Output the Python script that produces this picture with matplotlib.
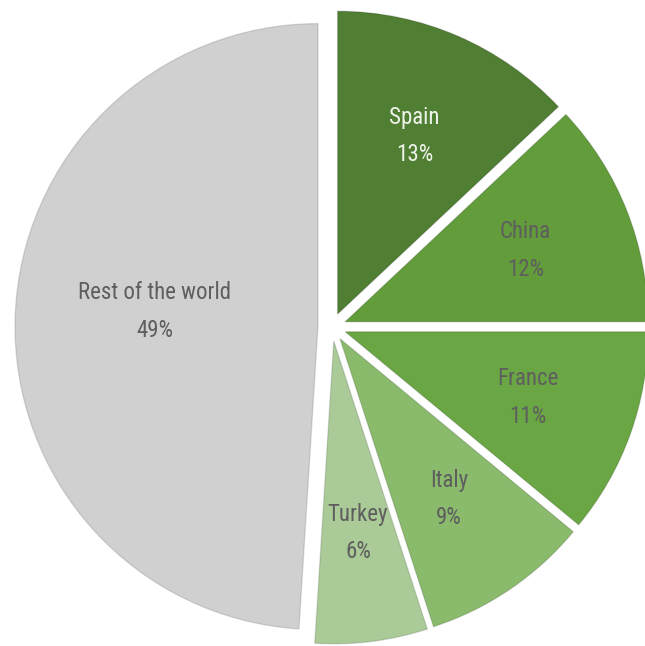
import matplotlib
matplotlib.use("Agg")
import matplotlib.pyplot as plt
import numpy as np

countries = ["Spain", "China", "France", "Italy", "Turkey", "Rest of the world"]
shares = [13, 12, 11, 9, 6, 49]
colors = ["#507e33", "#629c3b", "#6aa744", "#8aba6c", "#aacb98", "#d1d0d1"]
text_colors = ["#eef3ea", "#5e5e5e", "#5e5e5e", "#5e5e5e", "#5e5e5e", "#5e5e5e"]

plt.rcParams["font.family"] = ["Roboto Condensed", "Liberation Sans Narrow", "Roboto", "DejaVu Sans"]

fig = plt.figure(figsize=(6.45, 6.46), dpi=100)
ax = fig.add_axes([0, 0, 1, 1])

radius = 303
gap = 14  # explode offset, in data units
wedges, _ = ax.pie(shares, colors=colors, startangle=90, counterclock=False,
                   radius=radius, center=(332, 319), explode=[gap] * len(shares),
                   wedgeprops=dict(edgecolor=(0, 0, 0, 0.12), linewidth=1.0))

# pie resets the limits, so set them afterwards (pixel-like coordinates)
ax.set_xlim(0, 645)
ax.set_ylim(0, 646)
ax.set_aspect("equal")
ax.axis("off")

# labels placed along each wedge's mid angle
for w, name, pct, tc in zip(wedges, countries, shares, text_colors):
    mid = np.deg2rad((w.theta1 + w.theta2) / 2)
    frac = 0.54 if pct > 40 else 0.64
    x = w.center[0] + frac * radius * np.cos(mid)
    y = w.center[1] + frac * radius * np.sin(mid) + (10 if pct > 40 else 0)
    ax.text(x, y, f"{name}\n{pct}%", ha="center", va="center",
            fontsize=16.5, fontweight="normal", color=tc, linespacing=1.8)

fig.savefig("out.png", dpi=100)
